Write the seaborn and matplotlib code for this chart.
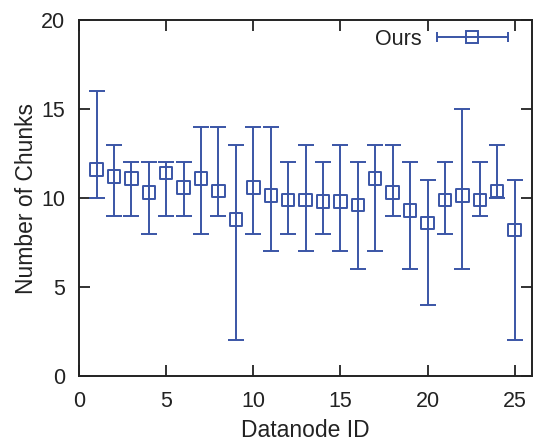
# Chunk distribution across datanodes (mean with min/max range)

import numpy as np
import pandas as pd
import seaborn as sns
import matplotlib
matplotlib.use("Agg")
import matplotlib.pyplot as plt
from matplotlib.lines import Line2D
from matplotlib.legend_handler import HandlerBase

# data
node_ids = list(range(1, 26))
mean_chunks = [11.6, 11.2, 11.1, 10.3, 11.4, 10.6, 11.1, 10.4, 8.8, 10.6,
               10.15, 9.9, 9.9, 9.8, 9.8, 9.6, 11.1, 10.3, 9.3, 8.6,
               9.9, 10.15, 9.9, 10.4, 8.2]
max_chunks = [16, 13, 12, 12, 12, 12, 14, 14, 13, 14,
              14, 12, 13, 12, 13, 12, 13, 13, 12, 11,
              12, 15, 12, 13, 11]
min_chunks = [10, 9, 9, 8, 9, 9, 8, 9, 2, 8,
              7, 8, 7, 8, 7, 6, 7, 9, 6, 4,
              8, 6, 9, 10, 2]

df = pd.DataFrame({"node": node_ids, "mean": mean_chunks,
                   "max": max_chunks, "min": min_chunks})

blue = "#3a55a6"
ink = "#222222"

sns.set_style("ticks")
plt.rcParams["font.family"] = ["Liberation Sans", "DejaVu Sans"]
plt.rcParams["text.color"] = ink
plt.rcParams["axes.labelcolor"] = ink
plt.rcParams["xtick.color"] = ink
plt.rcParams["ytick.color"] = ink

fig = plt.figure(figsize=(5.38, 4.46), dpi=100)
ax = fig.add_axes([0.147, 0.157, 0.842, 0.798])

# error bars (min..max)
yerr = np.vstack([df["mean"] - df["min"], df["max"] - df["mean"]])
ax.errorbar(df["node"], df["mean"], yerr=yerr, fmt="none", ecolor=blue,
            elinewidth=1.4, capsize=5.8, capthick=1.4, zorder=2)

# hollow square markers for the means
sns.scatterplot(data=df, x="node", y="mean", marker="s", s=80,
                facecolor="none", edgecolor=blue, linewidth=1.4,
                ax=ax, zorder=3, legend=False)


class ErrHandle(HandlerBase):
    def create_artists(self, legend, orig_handle, xdescent, ydescent,
                       width, height, fontsize, trans):
        y = height / 2 - ydescent
        bar = Line2D([-xdescent, width - xdescent], [y, y], color=blue, lw=1.4,
                     marker="|", markersize=7, markeredgewidth=1.4,
                     transform=trans)
        sq = Line2D([width / 2 - xdescent], [y], marker="s", markersize=8.5,
                    markerfacecolor="none", markeredgecolor=blue,
                    markeredgewidth=1.4, linestyle="none", transform=trans)
        return [bar, sq]


proxy = Line2D([], [], color=blue)
ax.legend([proxy], ["Ours"], handler_map={Line2D: ErrHandle()},
          loc="upper right", frameon=False, markerfirst=False,
          handlelength=3.3, handletextpad=0.7, fontsize=15.5,
          borderaxespad=1.0, bbox_to_anchor=(1.013, 1.06))

ax.set_xlim(0, 26)
ax.set_ylim(0, 20)
ax.set_xticks([0, 5, 10, 15, 20, 25])
ax.set_yticks([0, 5, 10, 15, 20])
ax.tick_params(direction="in", length=8, width=1.3, labelsize=15.5,
               top=True, right=True)
ax.tick_params(axis="x", pad=11)
ax.tick_params(axis="y", pad=10)
for s in ax.spines.values():
    s.set_linewidth(1.4)
    s.set_color(ink)

ax.set_xlabel("Datanode ID", fontsize=16.5, labelpad=5)
ax.set_ylabel("Number of Chunks", fontsize=16.5, labelpad=2)

fig.savefig("out.png", dpi=100)
